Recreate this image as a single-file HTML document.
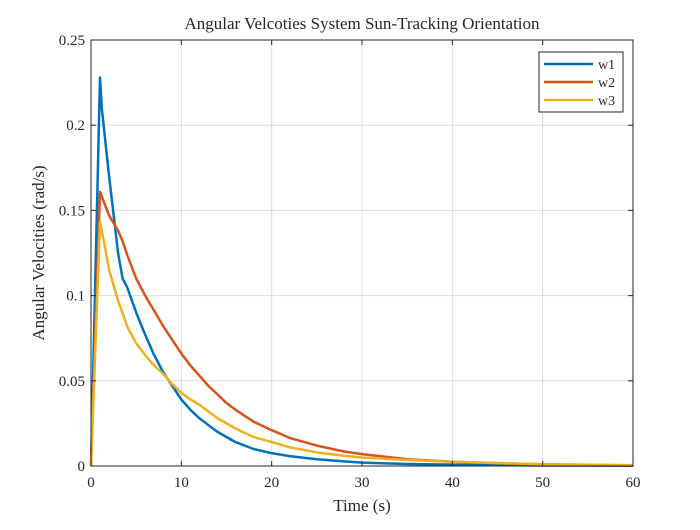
<!DOCTYPE html>
<html><head><meta charset="utf-8"><style>
body{margin:0;background:#fff;}
svg text{font-family:"Liberation Serif",serif;fill:#262626;}
</style></head><body>
<svg id="chart" width="700" height="525" xmlns="http://www.w3.org/2000/svg">
<rect x="0" y="0" width="700" height="525" fill="#fff"/>
<g id="grid"></g>
<g id="series"></g>
<rect x="91" y="40" width="542" height="426" fill="none" stroke="#262626" stroke-width="1"/>
<g id="ticks"></g>
<text x="362" y="29" text-anchor="middle" font-size="17">Angular Velcoties System Sun-Tracking Orientation</text>
<text x="362" y="511" text-anchor="middle" font-size="17">Time (s)</text>
<text transform="translate(44,253) rotate(-90)" text-anchor="middle" font-size="17">Angular Velocities (rad/s)</text>
<g>
<rect x="539" y="52" width="84" height="60" fill="#fff" stroke="#262626" stroke-width="1"/>
<line x1="544" y1="64" x2="593" y2="64" stroke="#0072BD" stroke-width="2.5"/>
<text x="598" y="69" font-size="14">w1</text>
<line x1="544" y1="82" x2="593" y2="82" stroke="#D95319" stroke-width="2.5"/>
<text x="598" y="87" font-size="14">w2</text>
<line x1="544" y1="100" x2="593" y2="100" stroke="#EDB120" stroke-width="2.5"/>
<text x="598" y="105" font-size="14">w3</text>
</g>
</svg>
<script>
const xTicks=[0,10,20,30,40,50,60];
const yTicks=[0,0.05,0.1,0.15,0.2,0.25];
const yTickLabels=["0","0.05","0.1","0.15","0.2","0.25"];
const w1T=[0,1,1.2,2,3,3.5,4,5,6,7,8,9,10,11,12,13,14,15,16,18,20,22,25,28,30,35,40,50,60];
const w1V=[0,0.228,0.21,0.17,0.125,0.11,0.105,0.09,0.077,0.065,0.055,0.047,0.039,0.033,0.028,0.024,0.02,0.017,0.014,0.010,0.0075,0.0058,0.004,0.0027,0.002,0.0012,0.0008,0.0003,0.0001];
const w2T=[0,1,2,3,3.5,4,5,6,7,8,9,10,11,12,13,14,15,16,18,20,22,25,28,30,35,40,45,50,60];
const w2V=[0,0.161,0.147,0.138,0.132,0.124,0.11,0.1,0.091,0.082,0.074,0.066,0.059,0.053,0.047,0.042,0.037,0.033,0.026,0.021,0.0165,0.012,0.0085,0.007,0.004,0.0025,0.0016,0.001,0.0003];
const w3T=[0,1,1.5,2,3,4,5,6,7,8,9,10,11,12,13,14,15,16,18,20,22,25,28,30,35,40,50,60];
const w3V=[0,0.143,0.13,0.115,0.097,0.082,0.072,0.065,0.059,0.054,0.048,0.043,0.039,0.036,0.032,0.028,0.025,0.022,0.017,0.014,0.011,0.008,0.006,0.005,0.0035,0.0025,0.001,0.0005];
const NS="http://www.w3.org/2000/svg";
const X0=91,X1=633,Y0=466,Y1=40;
function sx(t){return X0+(t/60)*(X1-X0);}
function sy(v){return Y0-(v/0.25)*(Y0-Y1);}
const grid=document.getElementById('grid'),ticks=document.getElementById('ticks'),ser=document.getElementById('series');
function mk(tag,attrs,parent){const e=document.createElementNS(NS,tag);for(const k in attrs)e.setAttribute(k,attrs[k]);parent.appendChild(e);return e;}
xTicks.forEach(t=>{
  const g=mk('line',{x1:sx(t),x2:sx(t),y1:Y1,y2:Y0,stroke:'#dcdcdc','stroke-width':1},grid);
  
  
  const a=mk('line',{x1:sx(t),x2:sx(t),y1:Y0,y2:Y0-5,stroke:'#262626'},ticks);
  
  
  const b=mk('line',{x1:sx(t),x2:sx(t),y1:Y1,y2:Y1+5,stroke:'#262626'},ticks);
  
  
  const tx=mk('text',{x:sx(t),y:Y0+21,'text-anchor':'middle','font-size':15},ticks);
  tx.textContent=String(t);
  
  
});
yTicks.forEach((v,i)=>{
  const g=mk('line',{x1:X0,x2:X1,y1:sy(v),y2:sy(v),stroke:'#dcdcdc','stroke-width':1},grid);
  
  
  const a=mk('line',{x1:X0,x2:X0+5,y1:sy(v),y2:sy(v),stroke:'#262626'},ticks);
  
  
  const b=mk('line',{x1:X1,x2:X1-5,y1:sy(v),y2:sy(v),stroke:'#262626'},ticks);
  
  
  const tx=mk('text',{x:X0-6,y:sy(v)+5,'text-anchor':'end','font-size':15},ticks);
  tx.textContent=yTickLabels[i];
  
  
});
[[w1T,w1V,'#0072BD','w1'],[w2T,w2V,'#D95319','w2'],[w3T,w3V,'#EDB120','w3']].forEach(([T,V,c,n])=>{
  const d=T.map((t,i)=>(i?'L':'M')+sx(t).toFixed(1)+','+sy(V[i]).toFixed(1)).join(' ');
  const p=mk('path',{d:d,fill:'none',stroke:c,'stroke-width':2.5,'stroke-linejoin':'round'},ser);
  
  
});
</script>
</body></html>
